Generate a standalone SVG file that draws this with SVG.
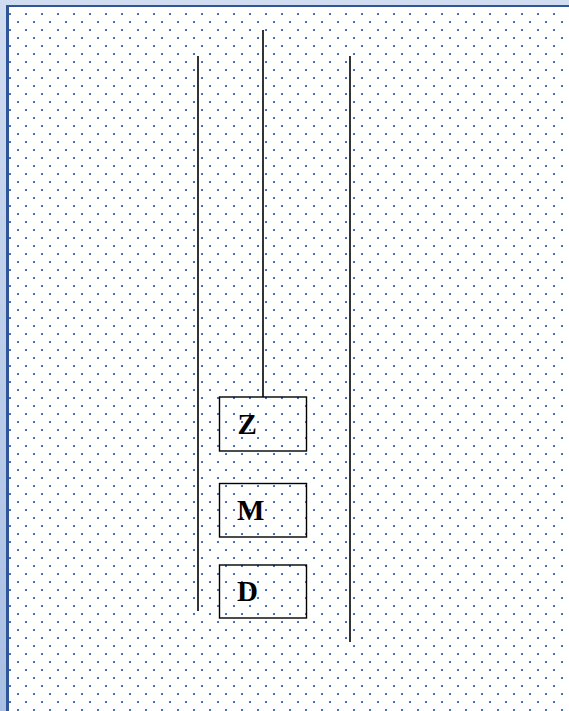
<svg xmlns="http://www.w3.org/2000/svg" width="569" height="711" viewBox="0 0 569 711">
<style>
.ln{stroke:#000;stroke-width:1.6;fill:none}
.box{stroke:#000;stroke-width:1.4;fill:none}
.lbl{font-family:"Liberation Serif","Times New Roman",serif;font-weight:bold;font-size:29px;fill:#000}
</style>
<defs>
<pattern id="dots" patternUnits="userSpaceOnUse" width="16" height="16">
<rect x="9" y="13" width="2" height="2" fill="#4472c4"/>
<rect x="1" y="5" width="2" height="2" fill="#4472c4"/>
</pattern>
<linearGradient id="side" x1="0" y1="0" x2="0" y2="1">
<stop offset="0" stop-color="#d0dcf0"/>
<stop offset="1" stop-color="#a9bfe3"/>
</linearGradient>
</defs>
<g id="frame">
<rect x="0" y="0" width="569" height="711" fill="#d0dcf0"/>
<rect x="0" y="0" width="6" height="711" fill="url(#side)"/>
<rect x="6" y="5" width="563" height="706" fill="#2f5597"/>
<rect x="9" y="7" width="560" height="704" fill="#fff"/>
<rect x="9" y="7" width="560" height="704" fill="url(#dots)"/>
</g>
<g id="connectors">
<line class="ln" x1="198" y1="56" x2="198" y2="611"/>
<line class="ln" x1="263" y1="30" x2="263" y2="397"/>
<line class="ln" x1="350" y1="56" x2="350" y2="642"/>
</g>
<g id="node-Z">
<rect class="box" x="219.5" y="397" width="87" height="54"/>
<text class="lbl" x="237.5" y="434">Z</text>
</g>
<g id="node-M">
<rect class="box" x="219.5" y="483.5" width="87" height="53.5"/>
<text class="lbl" x="237" y="519.7">M</text>
</g>
<g id="node-D">
<rect class="box" x="219.5" y="565" width="87" height="53"/>
<text class="lbl" x="237" y="600.5">D</text>
</g>
</svg>
